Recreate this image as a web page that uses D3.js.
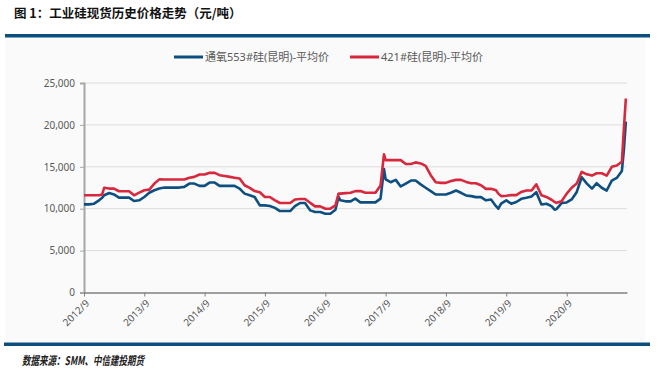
<!DOCTYPE html>
<html>
<head>
<meta charset="utf-8">
<script src="https://cdn.jsdelivr.net/npm/d3@7"></script>
<style>
  body { margin: 0; background: #fff; }
  text { font-family: "Noto Sans", "Noto Sans CJK SC", sans-serif; }
</style>
</head>
<body>
<script>
// data (元/吨)
let dates = [
  '2012-09-01','2012-10-01','2012-11-01','2012-12-01','2012-12-20','2013-01-01','2013-02-01','2013-03-01',
  '2013-04-01','2013-05-01','2013-06-01','2013-07-01','2013-08-01','2013-09-01','2013-10-01','2013-11-01',
  '2013-12-01','2014-01-01','2014-02-01','2014-03-01','2014-04-01','2014-05-01','2014-06-01','2014-07-01',
  '2014-08-01','2014-09-01','2014-10-01','2014-11-01','2014-12-01','2015-01-01','2015-02-01','2015-03-01',
  '2015-04-01','2015-05-01','2015-06-01','2015-07-01','2015-08-01','2015-09-01','2015-10-01','2015-11-01',
  '2015-12-01','2016-01-01','2016-02-01','2016-03-01','2016-04-01','2016-05-01','2016-06-01','2016-07-01',
  '2016-08-01','2016-09-01','2016-10-01','2016-11-01','2016-11-20','2016-12-01','2017-01-01','2017-02-01',
  '2017-03-01','2017-04-01','2017-05-01','2017-06-01','2017-07-01','2017-08-01','2017-08-22','2017-09-01',
  '2017-10-01','2017-11-01','2017-12-01','2018-01-01','2018-02-01','2018-03-01','2018-04-01','2018-05-01',
  '2018-06-01','2018-07-01','2018-08-01','2018-09-01','2018-10-01','2018-11-01','2018-12-01','2019-01-01',
  '2019-02-01','2019-03-01','2019-04-01','2019-05-01','2019-06-01','2019-07-01','2019-07-15','2019-08-01',
  '2019-09-01','2019-10-01','2019-11-01','2019-12-01','2020-01-01','2020-02-01','2020-03-01','2020-04-01',
  '2020-05-01','2020-06-01','2020-06-20','2020-07-01','2020-08-01','2020-09-01','2020-10-01','2020-11-01',
  '2020-12-01','2021-01-01','2021-02-01','2021-03-01','2021-04-01','2021-05-01','2021-06-01','2021-07-01',
  '2021-08-01','2021-08-13','2021-08-25'
];

let si553 = [
  10520,10520,10600,11000,11300,11600,11880,11700,
  11320,11320,11320,10920,11000,11400,11900,12200,
  12400,12520,12520,12520,12520,12600,13000,13000,
  12720,12720,13120,13120,12720,12720,12720,12720,
  12400,11800,11600,11400,10400,10400,10320,10100,
  9720,9720,9720,10300,10680,10680,9800,9600,
  9600,9400,9400,9880,11400,11000,10880,10880,
  11200,10750,10750,10750,10750,11200,14740,13500,
  13160,13440,12650,13000,13360,13360,12900,12500,
  12100,11700,11700,11700,11900,12170,11900,11580,
  11500,11380,11380,11000,11100,10300,10000,10600,
  10990,10600,10800,11180,11300,11460,11975,10500,
  10590,10300,9880,9950,10670,10750,11100,12000,
  13750,13000,12400,13040,12500,12170,13360,13670,
  14500,17000,20400
];

let si421 = [
  11600,11600,11600,11600,11700,12500,12400,12400,
  12080,12080,12080,11600,11920,12200,12280,13000,
  13500,13480,13480,13480,13480,13480,13700,13800,
  14080,14080,14280,14280,14000,13900,13800,13700,
  13600,12800,12480,12100,11960,11400,11400,11000,
  10680,10680,10680,11100,11160,11160,10700,10280,
  10280,10000,10000,10400,11800,11800,11860,11900,
  12100,12100,11900,11900,11900,12770,16500,15800,
  15800,15800,15800,15330,15330,15530,15400,15100,
  14000,13160,13080,13080,13300,13440,13440,13200,
  13040,13040,12800,12370,12370,12200,11800,11500,
  11550,11620,11620,12000,12170,12170,12900,11600,
  11400,11070,10800,10700,10900,11800,12500,13000,
  14400,14100,13950,14230,14230,13950,15000,15150,
  15600,19500,23150
];

let seriesNames = ['通氧553#硅(昆明)-平均价', '421#硅(昆明)-平均价'];
let seriesColors = ['#0d4f80', '#d7283d'];
let tickDates = ['2012-09-01','2013-09-01','2014-09-01','2015-09-01','2016-09-01','2017-09-01','2018-09-01','2019-09-01','2020-09-01'];
let yTicks = [0, 5000, 10000, 15000, 20000, 25000];

let width = 658, height = 372;
let margin = {top: 83, bottom: 79.5, left: 84, right: 31};

let parse = d3.timeParse('%Y-%m-%d');
let fmtTick = d3.timeFormat('%Y/%-m');

let svg = d3.select('body').append('svg').attr('width', width).attr('height', height);

// faint panel + rules
svg.append('rect').attr('x', 5).attr('y', 37).attr('width', 640).attr('height', 306).attr('fill', '#fafafa');
svg.append('rect').attr('x', 5).attr('y', 34).attr('width', 645).attr('height', 3.5).attr('fill', '#0b4f7f');
svg.append('rect').attr('x', 4).attr('y', 342.5).attr('width', 646).attr('height', 3.5).attr('fill', '#0b4f7f');

svg.append('text').attr('x', 14).attr('y', 18).text('图 1：工业硅现货历史价格走势（元/吨）')
  .style('font-family', '"Noto Sans CJK SC", sans-serif').style('font-weight', 'bold').style('font-size', '12.5px').attr('fill', '#111');

svg.append('text').attr('x', 22).attr('y', 365).text('数据来源：SMM、中信建投期货')
  .style('font-family', '"Noto Sans CJK SC", sans-serif').style('font-style', 'italic').style('font-weight', 'bold')
  .style('font-size', '12px')
  .attr('textLength', 122).attr('lengthAdjust', 'spacingAndGlyphs').attr('fill', '#222');

let xScale = d3.scaleTime()
  .domain([parse('2012-09-01'), parse('2021-09-01')])
  .range([margin.left, width - margin.right]);
let yScale = d3.scaleLinear().domain([0, 25000]).range([height - margin.bottom, margin.top]);

// gridlines
svg.append('g').selectAll('line').data(yTicks.slice(1)).enter().append('line')
  .attr('x1', margin.left).attr('x2', width - margin.right)
  .attr('y1', d => yScale(d)).attr('y2', d => yScale(d))
  .attr('stroke', '#dcdcdc').attr('stroke-width', 1);

let yAxis = svg.append('g').attr('transform', `translate(${margin.left},0)`)
  .call(d3.axisLeft(yScale).tickValues(yTicks).tickFormat(d3.format(',')).tickSize(4).tickPadding(5));
yAxis.select('.domain').attr('stroke', '#a6a6a6').attr('stroke-width', 2);
yAxis.selectAll('.tick line').attr('stroke', '#a6a6a6');
yAxis.selectAll('text').attr('fill', '#595959').style('font-size', '10px');

let xAxis = svg.append('g').attr('transform', `translate(0,${height - margin.bottom})`)
  .call(d3.axisBottom(xScale).tickValues(tickDates.map(parse)).tickFormat(fmtTick).tickSizeInner(4).tickSizeOuter(0));
xAxis.select('.domain').attr('stroke', '#808080').attr('stroke-width', 1.3);
xAxis.selectAll('.tick line').attr('stroke', '#808080');
xAxis.selectAll('text').attr('fill', '#595959').style('font-size', '10px')
  .attr('y', 0).attr('dy', '0.35em')
  .attr('transform', 'translate(3,9) rotate(-45)').style('text-anchor', 'end');

let series = [si553, si421];
let line = d3.line().x((d, i) => xScale(parse(dates[i]))).y(d => yScale(d));

svg.append('g').selectAll('path').data(series).enter().append('path')
  .attr('d', d => line(d))
  .attr('fill', 'none')
  .attr('stroke', (d, i) => seriesColors[i])
  .attr('stroke-width', 2.6)
  .attr('stroke-linejoin', 'round');

// legend
let legendX = [174, 350];
let legend = svg.append('g').selectAll('g').data(seriesNames).enter().append('g')
  .attr('transform', (d, i) => `translate(${legendX[i]},57)`);
legend.append('line').attr('x1', 0).attr('x2', 29).attr('y1', 0).attr('y2', 0)
  .attr('stroke', (d, i) => seriesColors[i]).attr('stroke-width', 3);
legend.append('text').attr('x', 31).attr('dy', '0.35em').text(d => d)
  .style('font-size', '11px').attr('fill', '#595959');
</script>
</body>
</html>
